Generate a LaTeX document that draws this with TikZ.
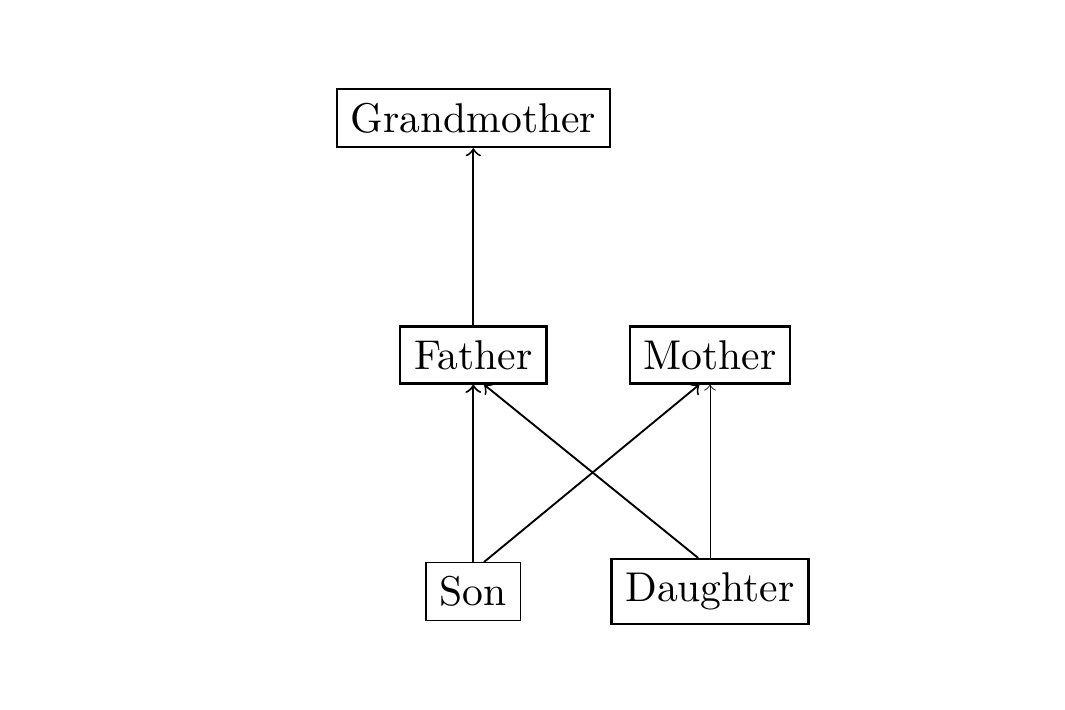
\documentclass[tikz,border=0pt]{standalone}
\begin{document}
\begin{tikzpicture}
\tikzset{person/.style={draw, rectangle, font=\fontsize{10}{12}\selectfont}}
\useasboundingbox (0,0) rectangle (9,6);
\node[person, line width=0.45pt] (gm) at (4,5) {Grandmother};
\node[person, line width=0.5pt] (fa) at (4,3) {Father};
\node[person, line width=0.5pt] (mo) at (6,3) {Mother};
\node[person, line width=0.3pt] (so) at (4,1) {Son};
\node[person, line width=0.55pt] (da) at (6,1) {Daughter};
\draw[->, line width=0.45pt] (fa.north) -- (gm.south);
\draw[->, line width=0.5pt] (so.north) -- (fa.south);
\draw[->, line width=0.45pt] ([xshift=0.09cm]so.north) -- ([xshift=-0.09cm]mo.south);
\draw[->, line width=0.45pt] ([xshift=-0.1cm]da.north) -- ([xshift=0.09cm]fa.south);
\draw[->, line width=0.2pt] (da.north) -- (mo.south);
\end{tikzpicture}
\end{document}
